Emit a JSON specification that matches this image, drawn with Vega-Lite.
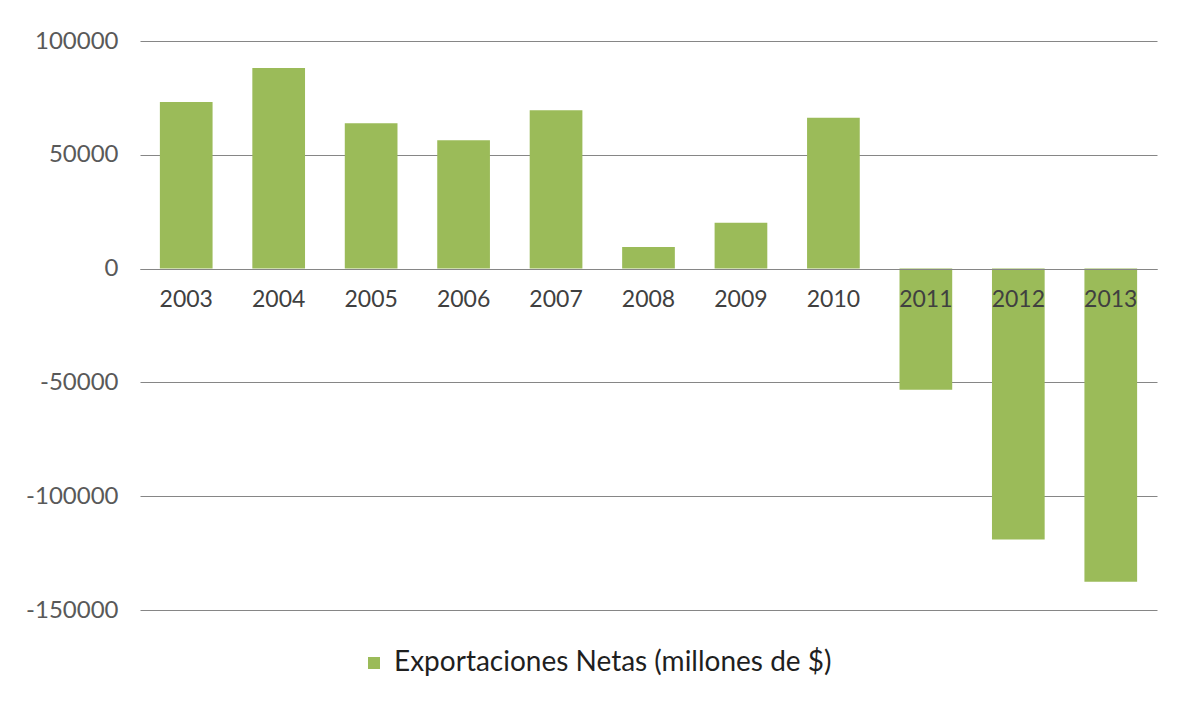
{
  "$schema": "https://vega.github.io/schema/vega-lite/v6.json",
  "autosize": {"type": "none"},
  "width": 1017,
  "height": 569,
  "padding": {"left": 140, "top": 41, "right": 27, "bottom": 94},
  "background": "white",
  "config": {"view": {"stroke": null}, "font": "Lato"},
  "data": {
    "values": [
      {"year": "2003", "value": 73250, "serie": "Exportaciones Netas (millones de $)"},
      {"year": "2004", "value": 88160, "serie": "Exportaciones Netas (millones de $)"},
      {"year": "2005", "value": 63860, "serie": "Exportaciones Netas (millones de $)"},
      {"year": "2006", "value": 56400, "serie": "Exportaciones Netas (millones de $)"},
      {"year": "2007", "value": 69560, "serie": "Exportaciones Netas (millones de $)"},
      {"year": "2008", "value": 9470, "serie": "Exportaciones Netas (millones de $)"},
      {"year": "2009", "value": 20170, "serie": "Exportaciones Netas (millones de $)"},
      {"year": "2010", "value": 66230, "serie": "Exportaciones Netas (millones de $)"},
      {"year": "2011", "value": -53250, "serie": "Exportaciones Netas (millones de $)"},
      {"year": "2012", "value": -119040, "serie": "Exportaciones Netas (millones de $)"},
      {"year": "2013", "value": -137540, "serie": "Exportaciones Netas (millones de $)"}
    ]
  },
  "mark": {"type": "bar"},
  "encoding": {
    "x": {
      "field": "year",
      "type": "ordinal",
      "scale": {"paddingInner": 0.43, "paddingOuter": 0.215},
      "axis": {
        "title": null,
        "labelAngle": 0,
        "labelFontSize": 23,
        "labelColor": "#404040",
        "labelPadding": 19,
        "ticks": false,
        "domain": true,
        "domainColor": "#868686",
        "offset": -341,
        "zindex": 1
      }
    },
    "y": {
      "field": "value",
      "type": "quantitative",
      "scale": {"domain": [-150000, 100000], "nice": false},
      "axis": {
        "title": null,
        "values": [-150000, -100000, -50000, 0, 50000, 100000],
        "labelExpr": "'' + datum.value",
        "labelFontSize": 24,
        "labelColor": "#595959",
        "labelPadding": 22,
        "ticks": false,
        "domain": false,
        "gridColor": "#868686",
        "gridWidth": 1
      }
    },
    "color": {
      "field": "serie",
      "type": "nominal",
      "scale": {"range": ["#9BBB59"]},
      "legend": {
        "title": null,
        "orient": "none",
        "legendX": 220,
        "legendY": 608,
        "padding": 0,
        "symbolType": "square",
        "symbolSize": 144,
        "symbolStrokeWidth": 0,
        "labelOffset": 6,
        "labelFontSize": 28,
        "labelColor": "#1f1f1f",
        "labelLimit": 700
      }
    }
  }
}
